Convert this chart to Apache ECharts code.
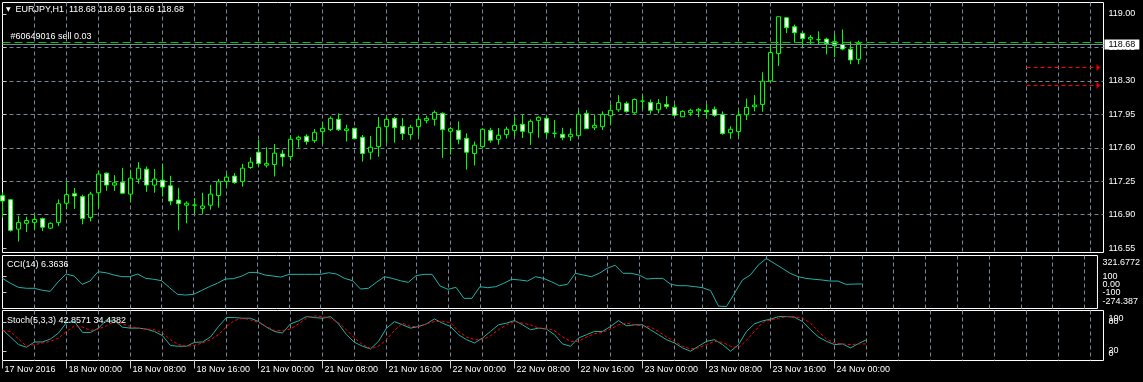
<!DOCTYPE html>
<html><head><meta charset="utf-8">
<script src="https://cdn.jsdelivr.net/npm/echarts@6/dist/echarts.min.js"></script>
<style>html,body{margin:0;padding:0;background:#000}#c{width:1143px;height:382px}</style>
</head><body><div id="c"></div>
<script>
const symbolName = 'EURJPY,H1';
const open = [117.099,117.057,116.750,116.810,116.820,116.860,116.760,116.820,117.020,117.120,
117.090,116.870,117.130,117.335,117.210,117.240,117.116,117.273,117.377,117.210,
117.262,117.203,117.054,117.000,117.000,116.967,117.000,117.100,117.248,117.304,
117.248,117.394,117.554,117.418,117.425,117.536,117.508,117.689,117.721,117.675,
117.769,117.790,117.898,117.780,117.804,117.710,117.554,117.612,117.821,117.908,
117.825,117.738,117.821,117.887,117.898,117.960,117.773,117.783,117.700,117.540,
117.612,117.783,117.689,117.738,117.783,117.846,117.758,117.887,117.908,117.752,
117.742,117.716,117.727,117.960,117.810,117.821,117.935,117.998,118.064,117.967,
118.088,118.075,117.998,118.054,118.023,117.925,117.967,117.987,117.992,118.002,
117.950,117.758,117.769,117.946,118.030,118.054,118.300,118.585,118.960,118.866,
118.797,118.737,118.731,118.737,118.710,118.679,118.630,118.526,118.680];
const close = [117.044,116.737,116.820,116.840,116.850,116.770,116.810,117.015,117.110,117.096,
116.860,117.116,117.325,117.210,117.234,117.126,117.283,117.387,117.210,117.273,
117.190,117.043,117.015,117.020,117.002,116.992,117.116,117.245,117.293,117.238,
117.387,117.450,117.435,117.435,117.544,117.505,117.689,117.710,117.665,117.762,
117.804,117.908,117.790,117.797,117.696,117.540,117.606,117.814,117.898,117.810,
117.748,117.814,117.898,117.908,117.971,117.790,117.800,117.689,117.554,117.627,
117.794,117.679,117.731,117.794,117.835,117.773,117.877,117.919,117.758,117.752,
117.706,117.742,117.950,117.800,117.835,117.950,117.992,118.075,117.981,118.106,
118.088,117.992,118.064,118.033,117.940,117.981,117.992,118.002,117.977,117.940,
117.748,117.794,117.940,118.023,118.047,118.297,118.596,118.971,118.856,118.804,
118.742,118.755,118.731,118.689,118.668,118.633,118.519,118.693,118.680];
const low = [116.867,116.724,116.620,116.720,116.740,116.730,116.750,116.780,116.960,116.960,
116.800,116.830,116.970,117.150,117.150,117.120,117.030,117.224,117.140,117.130,
117.090,117.000,116.737,116.810,116.908,116.908,116.953,116.974,117.190,117.224,
117.193,117.380,117.404,117.394,117.300,117.404,117.466,117.602,117.633,117.651,
117.644,117.776,117.776,117.665,117.693,117.456,117.477,117.505,117.654,117.654,
117.682,117.685,117.721,117.856,117.831,117.495,117.529,117.637,117.373,117.415,
117.596,117.654,117.633,117.696,117.721,117.703,117.630,117.706,117.713,117.706,
117.679,117.672,117.716,117.797,117.786,117.786,117.842,117.977,117.967,117.956,
118.008,117.956,117.960,118.008,117.932,117.922,117.935,117.919,117.904,117.925,
117.738,117.693,117.716,117.890,117.981,117.977,118.290,118.456,118.800,118.700,
118.654,118.685,118.685,118.578,118.547,118.620,118.474,118.474,118.660];
const high = [117.133,117.064,116.890,116.880,116.900,116.870,116.820,117.060,117.240,117.180,
117.110,117.140,117.360,117.340,117.314,117.390,117.370,117.450,117.404,117.380,
117.432,117.307,117.182,117.040,117.075,117.130,117.213,117.273,117.325,117.335,
117.432,117.502,117.682,117.606,117.640,117.578,117.734,117.727,117.742,117.797,
117.867,117.929,117.960,117.840,117.810,117.734,117.724,117.922,117.922,117.922,
117.912,117.840,117.929,117.935,117.992,117.971,117.821,117.877,117.752,117.665,
117.804,117.810,117.807,117.821,117.925,117.950,117.898,117.929,117.935,117.890,
117.810,117.804,117.995,117.995,117.946,117.981,118.057,118.151,118.085,118.116,
118.151,118.106,118.109,118.140,118.057,117.992,118.008,118.016,118.057,118.033,
117.981,117.825,117.992,118.116,118.151,118.390,118.672,118.974,118.967,118.890,
118.807,118.779,118.818,118.752,118.794,118.838,118.713,118.721,118.690];
const cci = [75,14,-36,-48,-48,-73,-86,33,129,104,
1,42,158,145,117,96,96,129,75,64,
46,-41,-123,-132,-123,-77,-28,14,67,71,
100,149,149,117,104,91,125,125,125,125,
125,145,129,75,46,-57,-48,26,96,75,
46,26,109,125,125,-20,-61,-36,-173,-173,
-28,-41,-28,14,64,55,42,96,75,33,
-16,1,138,117,96,138,200,238,138,138,
117,67,75,75,1,-16,-16,-28,-41,-77,
-270,-274.387,-111,55,117,241,321.6772,262,200,138,
96,75,64,55,42,42,1,4,6.3636];
const stochMain = [63.6,48.6,32.9,27.4,38.4,38.4,44.5,56.9,78.6,80.6,
58.1,58.1,67,84,82.7,69,67,67,65,60,
51.3,31,29.5,29.5,37.6,38.4,48.6,70.4,88.9,88.9,
87.5,87.5,80.6,69,60,56.9,75.9,82,90.9,88.9,
87.5,90.9,75.9,53.4,37.6,29.5,24,39.7,67,80.6,
73.9,67,70.4,75.9,86.1,77.3,70.4,53.4,43.1,36.3,
46.5,60.2,73.9,77.3,82.7,73.9,63.6,67,65,53.4,
34.3,29.5,46.5,53.4,60.2,60.2,70.4,82.7,71.8,73.9,
73.9,63.6,53.4,43.1,36.3,26.1,19.2,29.5,39.7,43.1,
32.9,19.2,32.9,60.2,75.9,82,85.5,90.9,90.9,89.6,
80.7,63.6,48.6,39.7,32.9,34.3,26.1,35,42.8571];
const stochSignal = [61.6,60.2,44.5,29.5,32.9,36.3,39.7,46.5,60.2,71.8,
69.1,62.2,65,71.8,80.7,75.9,70.4,67,65,63.6,
56.8,43.1,32.9,29.5,31.5,36.3,43.1,53.4,70.4,82.7,
87.5,84.1,78.6,70.4,62.2,62.2,65,75.9,87.5,92.3,
90.9,87.5,78.6,63.6,46.5,32.9,24.7,29.5,43.1,62.2,
77.3,70.4,70.4,75.9,80.7,80.7,78.6,60.2,48.6,43.1,
43.1,51.3,63.6,73.9,80.7,77.3,73.9,67,67,61.6,
48.6,39.7,39.7,48.6,55.4,58.2,65,73.9,77.3,73.9,
71.8,69.1,60.2,48.6,39.7,29.5,24,26.1,32.9,39.7,
37.7,29.5,26.1,41.8,60.2,78.6,84.1,87.5,90.9,90.9,
87.5,77.3,60.2,44.5,36.3,34.3,32.9,34.3,34.4382];
const priceTicks = [116.55,116.90,117.25,117.60,117.95,118.30,118.65,119.00];
const cciMax = 321.6772, cciMin = -274.387;
const cciLevels = [100,-100];
const cciZero = 0;
const stochMaxLabel = 100, stochMinLabel = 0;
const stochLevels = [80,20];
const timeTickBars = [0,8,16,24,32,40,48,56,64,72,80,88,96,104];
const timeTickLabels = ['17 Nov 2016','18 Nov 00:00','18 Nov 08:00','18 Nov 16:00','21 Nov 00:00','21 Nov 08:00','21 Nov 16:00','22 Nov 00:00','22 Nov 08:00','22 Nov 16:00','23 Nov 00:00','23 Nov 08:00','23 Nov 16:00','24 Nov 00:00'];
const orderText = '#60649016 sell 0.03';
const orderPrice = 118.70;
const bidPrice = 118.68;
const arrowLevels = [118.440, 118.252];
const arrowFromBar = 128, arrowToBar = 137;

const FONT = "'Liberation Sans', Arial, sans-serif";
const GRIDC = '#778899';
const last = open.length - 1;
const candles = open.map((o, i) => [i, o, close[i], low[i], high[i]]);
const cciData = cci.map((v, i) => [i, v]);
const mainData = stochMain.map((v, i) => [i, v]);
const sigData = stochSignal.map((v, i) => [i, v]);
const redSegs = [];
arrowLevels.forEach(p => { redSegs.push([arrowFromBar, p], [arrowToBar, p], [arrowToBar, null]); });
const redArrows = arrowLevels.map(p => [arrowToBar, p]);
const XMAX = 137.625;
const CCI_EXT = [-299, 359];
const STO_EXT = [0, 103.5];

const xSplit = (g) => ({
  type: 'value', gridIndex: g, min: 0, max: XMAX, interval: 4,
  axisLine: {show: false}, axisTick: {show: false}, axisLabel: {show: false},
  splitLine: {show: true, showMinLine: false, showMaxLine: false, lineStyle: {color: GRIDC, type: [4, 3], width: 1}}
});
const txt = {color: '#ffffff', fontSize: 9, fontFamily: FONT};
const splitY = {show: true, showMinLine: false, showMaxLine: false, lineStyle: {color: GRIDC, type: [4, 3], width: 1}};
const tickStyle = {color: '#c8c8c8'};
const lblBase = {margin: 5, hideOverlap: false, showMinLabel: true, showMaxLabel: true};

function labelAxis(g, ext, values, fmt, rich, ticks) {
  return {
    type: 'value', gridIndex: g, position: 'right', min: ext[0], max: ext[1],
    axisLine: {show: false},
    axisTick: ticks ? {show: true, customValues: ticks, length: 4, lineStyle: tickStyle} : {show: false},
    axisLabel: Object.assign({}, lblBase, txt, {customValues: values, formatter: fmt, rich: rich || {}}),
    splitLine: ticks ? splitY : {show: false}
  };
}

const chart = echarts.init(document.getElementById('c'), null, {renderer: 'canvas'});
chart.setOption({
  backgroundColor: '#000000',
  animation: false,
  title: [
    {text: '{tri|▼}  ' + symbolName + '  ' + [open[last], high[last], low[last], close[last]].map(v => v.toFixed(2)).join(' '),
     left: 6, top: 5, padding: 0,
     textStyle: {color: '#fff', fontSize: 9, fontWeight: 'normal', fontFamily: FONT,
       rich: {tri: {fontSize: 6, color: '#fff', fontFamily: 'DejaVu Sans'}}}},
    {text: 'CCI(14) ' + cci[last].toFixed(4), left: 7, top: 260, padding: 0,
     textStyle: {color: '#fff', fontSize: 9, fontWeight: 'normal', fontFamily: FONT}},
    {text: 'Stoch(5,3,3) ' + stochMain[last].toFixed(4) + ' ' + stochSignal[last].toFixed(4), left: 7, top: 316, padding: 0,
     textStyle: {color: '#fff', fontSize: 9, fontWeight: 'normal', fontFamily: FONT}}
  ],
  grid: [
    {left: 2.5, top: 2.5, width: 1101, height: 250, show: true, borderColor: '#ffffff', borderWidth: 1, backgroundColor: 'transparent'},
    {left: 2.5, top: 255.5, width: 1101, height: 53, show: true, borderColor: '#ffffff', borderWidth: 1, backgroundColor: 'transparent'},
    {left: 2.5, top: 310.5, width: 1101, height: 50, show: true, borderColor: '#ffffff', borderWidth: 1, backgroundColor: 'transparent'}
  ],
  xAxis: [
    xSplit(0), xSplit(1),
    {type: 'value', gridIndex: 2, min: 0, max: XMAX, position: 'bottom', offset: 5,
     axisLine: {show: false}, splitLine: {show: false},
     axisTick: {show: true, customValues: timeTickBars, length: 8, lineStyle: tickStyle},
     axisLabel: Object.assign({show: true, customValues: timeTickBars, align: 'left', margin: 0, padding: [0, 0, 0, 2],
       hideOverlap: false, showMinLabel: true, showMaxLabel: true,
       formatter: v => timeTickLabels[timeTickBars.indexOf(v)] || ''}, txt)},
    xSplit(2)
  ],
  yAxis: [
    labelAxis(0, [116.505, 119.12], priceTicks, v => v.toFixed(2), null, priceTicks),
    labelAxis(1, CCI_EXT, [cciMax].concat(cciLevels), v => v === cciMax ? '{t|' + v + '}' : String(v),
      {t: Object.assign({padding: [8, 0, 0, 0]}, txt)}, cciLevels),
    labelAxis(1, CCI_EXT, [cciZero, cciMin], v => v === cciMin ? '{b|' + v + '}' : v.toFixed(2),
      {b: Object.assign({padding: [0, 0, 11, 0]}, txt)}, null),
    labelAxis(2, STO_EXT, [stochMaxLabel, stochLevels[1]], v => v === stochMaxLabel ? '{t|' + v + '}' : String(v),
      {t: Object.assign({padding: [12, 0, 0, 0]}, txt)}, stochLevels),
    labelAxis(2, STO_EXT, [stochLevels[0], stochMinLabel], v => v === stochMinLabel ? '{b|' + v + '}' : String(v),
      {b: Object.assign({padding: [0, 0, 14, 0]}, txt)}, null)
  ],
  series: [
    {type: 'candlestick', xAxisIndex: 0, yAxisIndex: 0, data: candles,
     encode: {x: 0, y: [1, 2, 3, 4]}, barWidth: 4,
     itemStyle: {color: '#000000', color0: '#ffffff', borderColor: '#00ff00', borderColor0: '#00ff00', borderColorDoji: '#00ff00', borderWidth: 1},
     markLine: {silent: true, symbol: ['none', 'none'], animation: false, precision: 3,
       data: [
         {yAxis: orderPrice, lineStyle: {color: '#00cc00', type: [8, 4], width: 1},
          label: {show: true, position: 'insideStartTop', formatter: orderText, distance: [8, 2], color: '#fff', fontSize: 9, fontFamily: FONT}},
         {yAxis: bidPrice, lineStyle: {color: GRIDC, type: 'solid', width: 1},
          label: {show: true, position: 'end', formatter: bidPrice.toFixed(2), distance: 1, color: '#000', backgroundColor: '#fff', padding: [1, 4, 0, 4], fontSize: 9, fontFamily: FONT}}
       ]}},
    {type: 'line', xAxisIndex: 0, yAxisIndex: 0, data: redSegs, symbol: 'none', silent: true, connectNulls: false,
     lineStyle: {color: '#ff0000', type: [4, 3], width: 1}, itemStyle: {color: '#ff0000'}},
    {type: 'scatter', xAxisIndex: 0, yAxisIndex: 0, data: redArrows, silent: true,
     symbol: 'triangle', symbolRotate: -90, symbolSize: [7, 4], itemStyle: {color: '#ff0000'}},
    {type: 'line', xAxisIndex: 1, yAxisIndex: 1, data: cciData, symbol: 'none',
     lineStyle: {color: '#20b2aa', width: 1}, itemStyle: {color: '#20b2aa'}},
    {type: 'line', xAxisIndex: 3, yAxisIndex: 3, data: mainData, symbol: 'none',
     lineStyle: {color: '#20b2aa', width: 1}, itemStyle: {color: '#20b2aa'}},
    {type: 'line', xAxisIndex: 3, yAxisIndex: 3, data: sigData, symbol: 'none',
     lineStyle: {color: '#ff0000', width: 1, type: [3, 2]}, itemStyle: {color: '#ff0000'}}
  ]
});
</script></body></html>
